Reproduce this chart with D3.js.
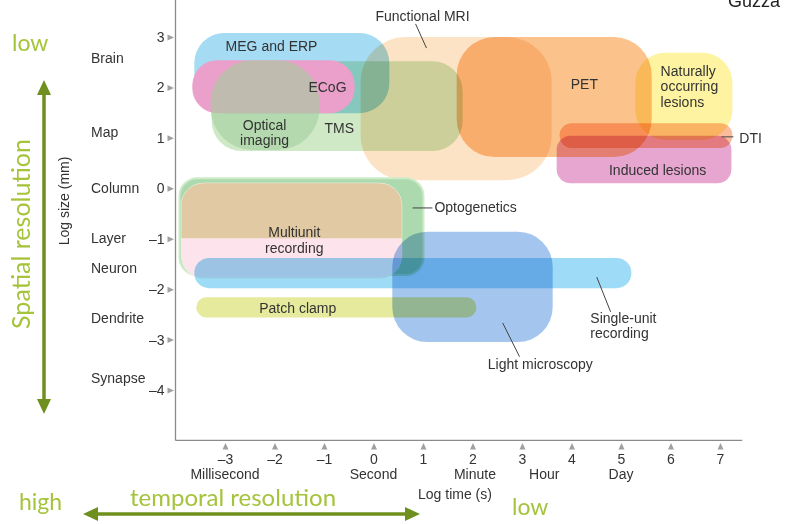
<!DOCTYPE html>
<html><head><meta charset="utf-8">
<script src="https://cdn.jsdelivr.net/npm/d3@7"></script>
<style>
body{margin:0;background:#fff}
svg{display:block}
text{font-family:"Liberation Sans",Arial,sans-serif}
.g{font-family:Lato,"Open Sans",sans-serif}
</style>
</head><body><svg id="c" width="788" height="524"></svg>
<script>
// ---- data (log10 seconds, log10 mm) ----
const techniques = ["Functional MRI","MEG and ERP","TMS","ECoG","Optical imaging","PET",
  "Naturally occurring lesions","Induced lesions","DTI","Optogenetics","Multiunit recording",
  "Single-unit recording","Patch clamp","Light microscopy"];
const timeMin = [-0.26,-3.62,-3.27,-3.66,-3.29,1.68,5.29,3.70,3.76,-3.92,-3.88,-3.62,-3.58,0.38];
const timeMax = [ 3.60, 0.32, 1.80,-0.38,-1.09,5.62,7.25,7.23,7.25, 1.01, 0.57, 5.21, 2.08,3.62];
const sizeMax = [ 3.00, 3.08, 2.52, 2.54, 2.54,3.00,2.69,1.04,1.29, 0.20, 0.10,-1.38,-2.16,-0.86];
const sizeMin = [ 0.16, 1.49, 0.74, 1.49, 0.76,0.62,0.96,0.10,0.80,-1.72,-1.78,-1.98,-2.56,-3.05];
const multiunitSplit = -0.99;

const xTicks = [-3,-2,-1,0,1,2,3,4,5,6,7];
const yTicks = [3,2,1,0,-1,-2,-3,-4];
const sizeCategories = ["Brain","Map","Column","Layer","Neuron","Dendrite","Synapse"];
const sizeCategoryValues = [2.58,1.12,0.0,-0.99,-1.58,-2.57,-3.76];
const timeUnits = ["Millisecond","Second","Minute","Hour","Day"];
const timeUnitValues = [-3,0,2.05,3.45,5.0];

// label anchors (data units)
const labelText = [["Functional MRI"],["MEG and ERP"],["ECoG"],["Optical","imaging"],["TMS"],["PET"],
  ["Naturally","occurring","lesions"],["DTI"],["Induced lesions"],["Optogenetics"],["Multiunit","recording"],
  ["Single-unit","recording"],["Patch clamp"],["Light microscopy"]];
const labelX = [0.99,-2.06,-0.93,-2.20,-0.69,4.26,5.80,7.39,5.74,1.23,-1.60,4.38,-1.53,3.37];
const labelY = [3.32,2.72,1.90,1.16,1.10,1.97,2.23,0.90,0.26,-0.47,-0.97,-2.67,-2.47,-3.58];
const labelAnchor = ["middle","middle","middle","middle","middle","middle","start","start","middle","start","middle","start","middle","middle"];
// leader lines [x1,y1,x2,y2] in data units
const leaders = [[0.85,3.26,1.07,2.78],[7.03,1.02,7.27,1.02],[0.79,-0.39,1.19,-0.39],
  [4.51,-1.76,4.79,-2.45],[2.61,-2.67,2.95,-3.34]];

// ---- styles ----
const style = {
  "Functional MRI":{fill:"#fde3c5",blend:"normal",r:45},
  "MEG and ERP":{fill:"#a5dbf3",blend:"multiply",r:30},
  "TMS":{fill:"#cfe9c7",blend:"multiply",r:30},
  "ECoG":{fill:"#eaa0cb",blend:"normal",r:25},
  "Optical imaging":{fill:"#a2cf9c",blend:"normal",r:42,op:0.6},
  "PET":{fill:"#fbc28c",blend:"multiply",r:38},
  "Naturally occurring lesions":{fill:"#fdf3a0",blend:"multiply",r:30},
  "Induced lesions":{fill:"#e6a6d0",blend:"multiply",r:14},
  "DTI":{fill:"#fbbc9c",blend:"multiply",r:12},
  "Optogenetics":{fill:"#acdaae",blend:"normal",r:18,stroke:"#cdebc8"},
  "Multiunit recording":{fill:"#fce3ec",blend:"normal",r:22},
  "Single-unit recording":{fill:"#9edbf7",blend:"multiply",r:15},
  "Patch clamp":{fill:"#e5ea9c",blend:"multiply",r:10},
  "Light microscopy":{fill:"#a4c6ee",blend:"multiply",r:35}
};

const svg = d3.select("#c");
const x = d3.scaleLinear().domain([-3,7]).range([225,720]);
const y = d3.scaleLinear().domain([-4,3]).range([390,37]);

const shapes = svg.append("g");
techniques.forEach((t,i)=>{
  const s = style[t];
  const rx = x(timeMin[i]), ry = y(sizeMax[i]);
  const w = x(timeMax[i]) - rx, h = y(sizeMin[i]) - ry;
  const r = Math.min(s.r, h/2, w/2);
  const rect = shapes.append("rect").attr("x",rx).attr("y",ry).attr("width",w).attr("height",h)
    .attr("rx",r).attr("ry",r).attr("fill",s.fill)
    .style("mix-blend-mode",s.blend).attr("opacity",s.op||1);
  if (s.stroke) rect.attr("stroke",s.stroke).attr("stroke-width",2);
  if (t==="Multiunit recording") {
    const cp = svg.append("defs").append("clipPath").attr("id","mu");
    cp.append("rect").attr("x",rx-2).attr("y",ry-2).attr("width",w+4).attr("height",y(multiunitSplit)-ry+2);
    shapes.append("rect").attr("x",rx).attr("y",ry).attr("width",w).attr("height",h)
      .attr("rx",r).attr("ry",r).attr("fill","#e0c9a3").attr("clip-path","url(#mu)");
    rect.attr("stroke","#eef3e6").attr("stroke-width",1);
  }
});

// axes
const axisCol = "#8a8a8a";
svg.append("line").attr("x1",x(-4)).attr("x2",x(-4)).attr("y1",0).attr("y2",y(-5)).attr("stroke",axisCol).attr("stroke-width",1.3);
svg.append("line").attr("x1",x(-4)).attr("x2",x(7.45)).attr("y1",y(-5)).attr("y2",y(-5)).attr("stroke",axisCol).attr("stroke-width",1.3);

const fmt = v => v<0 ? "\u2013"+Math.abs(v) : String(v);
const xAxis = svg.append("g").attr("transform",`translate(0,${y(-5)})`)
  .call(d3.axisBottom(x).tickValues(xTicks).tickSize(0).tickPadding(14).tickFormat(fmt));
xAxis.select(".domain").remove();
xAxis.selectAll("text").attr("font-size",14).attr("fill","#333").attr("font-family","Liberation Sans, Arial, sans-serif");
xAxis.selectAll(".tick").append("path").attr("d","M0,2.5L3,9L-3,9Z").attr("fill","#a0a0a0");

const yAxis = svg.append("g").attr("transform",`translate(${x(-4)},0)`)
  .call(d3.axisLeft(y).tickValues(yTicks).tickSize(0).tickPadding(11).tickFormat(fmt));
yAxis.select(".domain").remove();
yAxis.selectAll("text").attr("font-size",14).attr("fill","#333").attr("font-family","Liberation Sans, Arial, sans-serif");
yAxis.selectAll(".tick").append("path").attr("d","M-1.5,0L-8,-3L-8,3Z").attr("fill","#a0a0a0");

// category labels
sizeCategories.forEach((c,i)=>{
  svg.append("text").attr("x",91).attr("y",y(sizeCategoryValues[i])).attr("dy","0.35em")
    .attr("font-size",14).attr("fill","#333").text(c);
});
timeUnits.forEach((c,i)=>{
  svg.append("text").attr("x",x(timeUnitValues[i])).attr("y",479).attr("text-anchor","middle")
    .attr("font-size",14).attr("fill","#333").text(c);
});
svg.append("text").attr("x",455).attr("y",499).attr("text-anchor","middle").attr("font-size",14).attr("fill","#333").text("Log time (s)");
svg.append("text").attr("transform",`translate(69,${y(-0.25)}) rotate(-90)`).attr("text-anchor","middle")
  .attr("font-size",14).attr("fill","#333").text("Log size (mm)");

// technique labels
labelText.forEach((lines,i)=>{
  const t = svg.append("text").attr("x",x(labelX[i])).attr("y",y(labelY[i])).attr("text-anchor",labelAnchor[i])
    .attr("font-size",14).attr("fill","#333");
  lines.forEach((l,j)=>t.append("tspan").attr("x",x(labelX[i])).attr("dy",j?15.5:0).text(l));
});
leaders.forEach(l=>{
  svg.append("line").attr("x1",x(l[0])).attr("y1",y(l[1])).attr("x2",x(l[2])).attr("y2",y(l[3]))
    .attr("stroke","#444").attr("stroke-width",1);
});

// resolution annotations
const gTxt = "#a5c33b", gArr = "#6f901e";
svg.append("text").attr("class","g").attr("x",12).attr("y",51).attr("font-size",23).attr("fill",gTxt).text("low");
svg.append("text").attr("class","g").attr("transform","translate(30,234) rotate(-90)").attr("text-anchor","middle")
  .attr("font-size",25).attr("fill",gTxt).text("Spatial resolution");
svg.append("text").attr("class","g").attr("x",19).attr("y",510).attr("font-size",23).attr("fill",gTxt).text("high");
svg.append("text").attr("class","g").attr("x",130).attr("y",506).attr("font-size",24).attr("fill",gTxt).text("temporal resolution");
svg.append("text").attr("class","g").attr("x",512).attr("y",515).attr("font-size",23).attr("fill",gTxt).text("low");

svg.append("line").attr("x1",44).attr("x2",44).attr("y1",92).attr("y2",402).attr("stroke",gArr).attr("stroke-width",3.5);
svg.append("path").attr("d","M44,80L51,95L37,95Z").attr("fill",gArr);
svg.append("path").attr("d","M44,414L51,399L37,399Z").attr("fill",gArr);
svg.append("line").attr("x1",95).attr("x2",408).attr("y1",514).attr("y2",514).attr("stroke",gArr).attr("stroke-width",3.5);
svg.append("path").attr("d","M83,514L98,507L98,521Z").attr("fill",gArr);
svg.append("path").attr("d","M420,514L405,507L405,521Z").attr("fill",gArr);

svg.append("text").attr("x",728).attr("y",7).attr("font-size",18).attr("fill","#222").text("Guzza");
</script>
</body></html>
